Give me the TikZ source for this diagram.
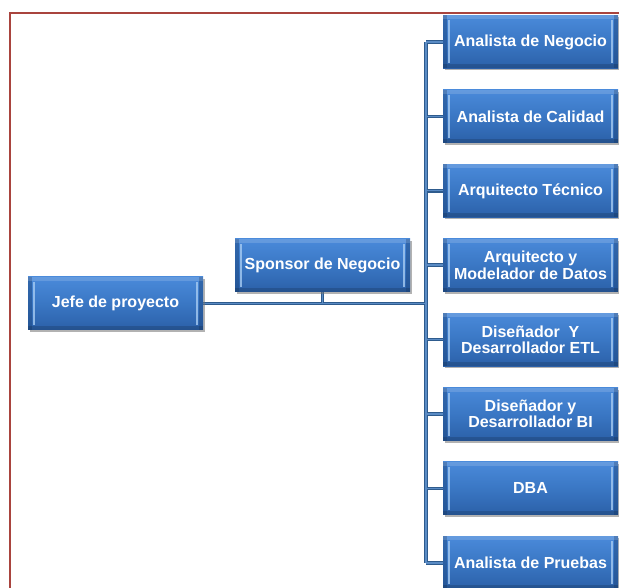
\documentclass[tikz,border=0pt]{standalone}
\usepackage{fontspec}
\setmainfont{Liberation Sans}
\usetikzlibrary{shadows,calc,backgrounds}

\definecolor{boxtop}{HTML}{4A8ADA}
\definecolor{boxmid}{HTML}{3A77C4}
\definecolor{boxbot}{HTML}{2B60A8}
\definecolor{bevel}{HTML}{A6CBF2}
\definecolor{bevdark}{HTML}{1F4C88}
\definecolor{linkdark}{HTML}{2E5B8D}
\definecolor{linklight}{HTML}{5A8BC4}
\definecolor{frame}{HTML}{A9443E}

\tikzset{
  role/.style={
    minimum width=175pt, minimum height=53pt, inner sep=0pt,
    text=white, align=center,
    font=\fontsize{16}{16.5}\selectfont\bfseries,
    top color=boxtop, bottom color=boxbot, middle color=boxmid,
    drop shadow={shadow xshift=1.5pt, shadow yshift=-2pt, fill=black!55, opacity=0.55},
    path picture={
      \fill[bevdark, opacity=0.55] (path picture bounding box.north west) rectangle
        ([xshift=4pt]path picture bounding box.south west);
      \fill[bevdark, opacity=0.55] (path picture bounding box.north east) rectangle
        ([xshift=-4pt]path picture bounding box.south east);
      \fill[bevel, opacity=0.8] ([xshift=5pt,yshift=-5pt]path picture bounding box.north west) rectangle
        ([xshift=7pt,yshift=5pt]path picture bounding box.south west);
      \fill[bevel, opacity=0.8] ([xshift=-5pt,yshift=-5pt]path picture bounding box.north east) rectangle
        ([xshift=-7pt,yshift=5pt]path picture bounding box.south east);
      \fill[white, opacity=0.15] (path picture bounding box.north west) rectangle
        ([yshift=-4pt]path picture bounding box.north east);
      \fill[black, opacity=0.15] (path picture bounding box.south west) rectangle
        ([yshift=4pt]path picture bounding box.south east);
    }
  },
  link/.style={draw=linkdark, line width=3.5pt},
  linkin/.style={draw=linklight, line width=1.4pt},
  border/.style={draw=frame, line width=2pt}
}

\begin{document}
\begin{tikzpicture}[x=1pt, y=-1pt]
  \useasboundingbox (0,0) rectangle (619,588);

  % page frame
  \draw[border] (10,588) -- (10,13) -- (619,13);

  % boxes
  \node[role] (jefe) at (115.5,303.5) {Jefe de proyecto};
  \node[role] (sponsor) at (322.5,265.5) {Sponsor de Negocio};
  \node[role] (r1) at (530.5,42.0) {Analista de Negocio};
  \node[role] (r2) at (530.5,116.4) {Analista de Calidad};
  \node[role] (r3) at (530.5,190.8) {Arquitecto Técnico};
  \node[role] (r4) at (530.5,265.2) {Arquitecto y\\Modelador de Datos};
  \node[role] (r5) at (530.5,339.6) {Diseñador\ \ Y\\Desarrollador ETL};
  \node[role] (r6) at (530.5,414.0) {Diseñador y\\Desarrollador BI};
  \node[role] (r7) at (530.5,488.4) {DBA};
  \node[role] (r8) at (530.5,562.8) {Analista de Pruebas};

  \coordinate (trunk) at (426,0);

  % connectors, kept behind the boxes
  \begin{scope}[on background layer]
    \foreach \s in {link, linkin}{
      \draw[\s] (jefe.east) -- (jefe.east -| trunk);
      \draw[\s] (sponsor.south) -- (sponsor.south |- jefe.east);
      \draw[\s] (r1.west -| trunk) -- (r8.west -| trunk);
      \foreach \r in {r1,r2,r3,r4,r5,r6,r7,r8}
        \draw[\s] (\r.west -| trunk) -- (\r.west);
    }
  \end{scope}
\end{tikzpicture}
\end{document}
